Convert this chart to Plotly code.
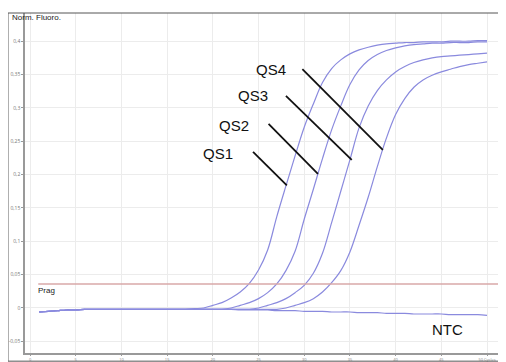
import plotly.graph_objects as go

cycles = list(range(1, 51))

base = [-0.006, -0.005, -0.004, -0.003, -0.003, -0.002, -0.002, -0.002, -0.002, -0.002]

qs1 = base + [-0.002, -0.002, -0.002, -0.002, -0.002, -0.002, -0.002, -0.001, 0.000, 0.004,
              0.008, 0.015, 0.024, 0.037, 0.057, 0.087, 0.137, 0.183, 0.228, 0.271,
              0.306, 0.338, 0.359, 0.372, 0.381, 0.387, 0.391, 0.394, 0.396, 0.397,
              0.398, 0.398, 0.399, 0.399, 0.399, 0.400, 0.400, 0.400, 0.401, 0.401]
qs2 = base + [-0.002, -0.002, -0.002, -0.002, -0.002, -0.002, -0.002, -0.002, -0.002, -0.002,
              -0.002, 0.000, 0.004, 0.008, 0.014, 0.023, 0.036, 0.056, 0.085, 0.133,
              0.178, 0.224, 0.267, 0.303, 0.335, 0.357, 0.371, 0.380, 0.386, 0.390,
              0.393, 0.395, 0.396, 0.397, 0.397, 0.398, 0.398, 0.398, 0.399, 0.399]
qs3 = base + [-0.002, -0.002, -0.002, -0.002, -0.002, -0.002, -0.002, -0.002, -0.002, -0.002,
              -0.002, -0.002, -0.002, -0.002, 0.000, 0.004, 0.008, 0.014, 0.023, 0.034,
              0.052, 0.082, 0.128, 0.175, 0.222, 0.270, 0.303, 0.326, 0.342, 0.354,
              0.362, 0.368, 0.372, 0.375, 0.377, 0.378, 0.379, 0.380, 0.381, 0.382]
qs4 = base + [-0.002, -0.002, -0.002, -0.002, -0.002, -0.002, -0.002, -0.002, -0.002, -0.002,
              -0.002, -0.002, -0.002, -0.002, -0.002, -0.002, -0.002, 0.000, 0.004, 0.008,
              0.014, 0.024, 0.038, 0.056, 0.084, 0.124, 0.166, 0.212, 0.255, 0.290,
              0.314, 0.331, 0.342, 0.349, 0.354, 0.358, 0.362, 0.365, 0.367, 0.369]
ntc = base + [-0.002, -0.002, -0.002, -0.002, -0.002, -0.002, -0.002, -0.002, -0.002, -0.002,
              -0.002, -0.002, -0.003, -0.003, -0.003, -0.003, -0.004, -0.004, -0.004, -0.005,
              -0.005, -0.005, -0.006, -0.006, -0.006, -0.007, -0.007, -0.007, -0.008, -0.008,
              -0.008, -0.009, -0.009, -0.009, -0.009, -0.010, -0.010, -0.010, -0.010, -0.011]

series_names = ["QS1", "QS2", "QS3", "QS4", "NTC"]
threshold = 0.036
threshold_label = "Prag"

y_tickvals = [-0.05, 0, 0.05, 0.1, 0.15, 0.2, 0.25, 0.3, 0.35, 0.4]
y_ticktext = ["-0,05", "0", "0,05", "0,1", "0,15", "0,2", "0,25", "0,3", "0,35", "0,4"]
x_tickvals = [0, 5, 10, 15, 20, 25, 30, 35, 40, 45, 50]
x_ticktext = ["0", "5", "10", "15", "20", "25", "30", "35", "40", "45", "50 Cycles"]
y_title = "Norm. Fluoro."

curve_color = "#8a8ade"

fig = go.Figure()
for name, vals in zip(series_names, [qs1, qs2, qs3, qs4, ntc]):
    fig.add_trace(go.Scatter(x=cycles, y=vals, mode="lines", name=name,
                             line=dict(color=curve_color, width=1.2, shape="spline"),
                             showlegend=False))

fig.add_trace(go.Scatter(x=[0.9, 52], y=[threshold, threshold], mode="lines",
                         line=dict(color="#d8a8a8", width=1.5), showlegend=False))

# pointer lines
pointers = [
    ("QS1", (24.4, 0.234), (28.1, 0.184), (20.6, 0.231)),
    ("QS2", (26.1, 0.276), (31.5, 0.201), (22.3, 0.273)),
    ("QS3", (28.0, 0.318), (35.2, 0.222), (24.4, 0.318)),
    ("QS4", (29.8, 0.358), (38.6, 0.237), (26.4, 0.357)),
]
shapes = []
annotations = []
for label, p0, p1, t in pointers:
    shapes.append(dict(type="line", xref="x", yref="y", x0=p0[0], y0=p0[1], x1=p1[0], y1=p1[1],
                       line=dict(color="#111111", width=1.8)))
    annotations.append(dict(x=t[0], y=t[1], xref="x", yref="y", text=label, showarrow=False,
                            font=dict(family="Liberation Sans, Arial", size=15, color="#111")))
annotations.append(dict(x=45.7, y=-0.033, xref="x", yref="y", text="NTC", showarrow=False,
                        font=dict(family="Liberation Sans, Arial", size=15, color="#111")))
annotations.append(dict(x=0.6, y=threshold - 0.0105, xref="x", yref="y", text=threshold_label,
                        showarrow=False, xanchor="left",
                        font=dict(family="Liberation Sans, Arial", size=8, color="#222")))
annotations.append(dict(x=-0.029, y=1.003, xref="paper", yref="paper", text=y_title,
                        showarrow=False, xanchor="left", yanchor="top", borderpad=0,
                        font=dict(family="Liberation Sans, Arial", size=8, color="#222")))

# outer frame
shapes.append(dict(type="rect", xref="paper", yref="paper", x0=-0.0356, x1=1.0, y0=-0.024, y1=1.0,
                   line=dict(color="#555555", width=1), layer="above"))

fig.update_layout(
    width=498, height=354,
    margin=dict(l=17, r=3, t=5, b=9),
    paper_bgcolor="white", plot_bgcolor="white",
    shapes=shapes, annotations=annotations,
    xaxis=dict(range=[-0.55, 51.75], tickvals=x_tickvals, ticktext=x_ticktext,
               automargin=False,
               showgrid=True, gridcolor="#ececec", gridwidth=1, zeroline=False,
               showline=True, linecolor="#999999", linewidth=2,
               ticks="outside", ticklen=1, tickcolor="#999",
               tickfont=dict(size=4, color="#888")),
    yaxis=dict(range=[-0.0675, 0.4423], tickvals=y_tickvals, ticktext=y_ticktext,
               automargin=False,
               showgrid=True, gridcolor="#ececec", gridwidth=1, zeroline=False,
               showline=True, linecolor="#999999", linewidth=1.5,
               ticks="outside", ticklen=2, tickcolor="#999",
               tickfont=dict(size=5, color="#777")),
)

fig.write_html("out.html")
